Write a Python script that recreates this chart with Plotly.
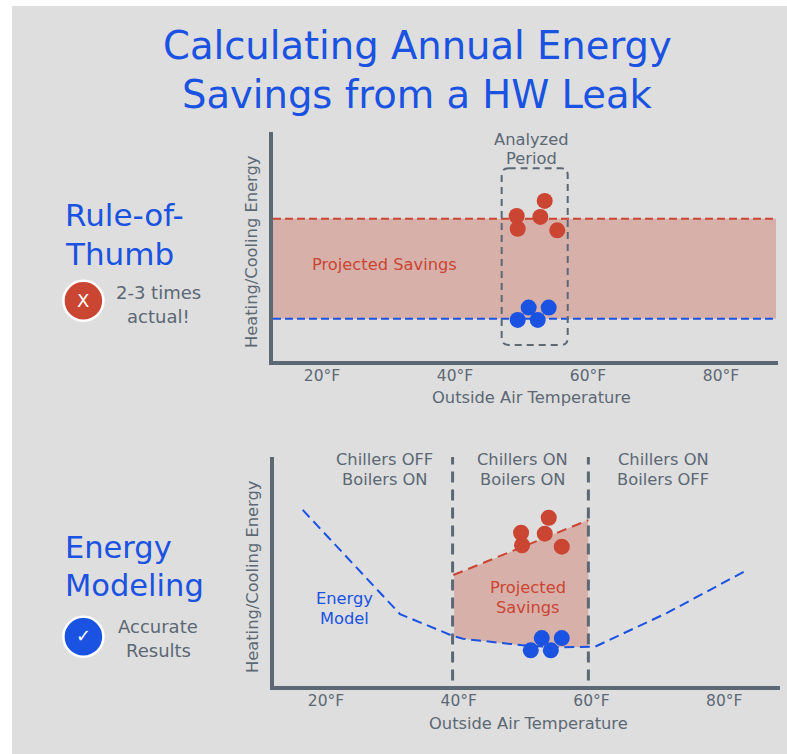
import plotly.graph_objects as go

W, H = 787, 754
FONT = "DejaVu Sans"
BLUE = "#1a52e2"
RED = "#cb4533"
GRAY = "#5c6874"
BG = "#dedede"
BAND = "rgba(203,69,51,0.30)"
LABEL = 16.3
SIDE = 18

# top panel (rule of thumb)
tick_vals = [20, 40, 60, 80]
tick_text = ["20°F", "40°F", "60°F", "80°F"]
top_red_x = [53.49, 49.28, 52.83, 49.43, 55.38]
top_red_y = [70.3, 63.8, 63.4, 58.3, 57.6]
top_blue_x = [51.08, 54.09, 49.43, 52.44]
top_blue_y = [24.3, 24.3, 19.0, 19.0]
top_line_x = [12.63, 88.27]
top_red_level = [62.6, 62.6]
top_blue_level = [19.5, 19.5]

# bottom panel (energy model)
bot_red_x = [53.56, 49.39, 52.96, 49.54, 55.52]
bot_red_y = [73.7, 67.2, 66.8, 61.8, 61.2]
bot_blue_x = [52.51, 55.52, 50.85, 53.87]
bot_blue_y = [21.6, 21.6, 16.3, 16.3]
bot_red_line_x = [39.19, 59.53]
bot_red_line_y = [48.9, 72.7]
model_x = [16.49, 31.15, 39.14, 40.65, 50.29, 55.27, 60.54, 71.39, 83.26]
model_y = [77.1, 32.0, 22.5, 21.3, 18.3, 17.6, 17.9, 32.5, 50.8]
fill_x = [39.3, 59.5, 59.5, 55.27, 50.29, 40.65, 39.3]
fill_y = [48.9, 72.7, 17.7, 17.6, 18.3, 21.3, 22.3]
divider_temps = [39.07, 59.53]
divider_span = [3.2, 100]

fig = go.Figure()


def px_x(x):
    return x / W


def px_y(y):
    return 1 - y / H


def dots(x, y, color, xa, ya):
    fig.add_trace(go.Scatter(x=x, y=y, mode="markers", xaxis=xa, yaxis=ya,
                             marker=dict(size=16, color=color, line=dict(width=0))))


def dash(x, y, color, xa, ya, width=2, pattern="8px,4px"):
    fig.add_trace(go.Scatter(x=x, y=y, mode="lines", xaxis=xa, yaxis=ya,
                             line=dict(color=color, width=width, dash=pattern)))


def band(x, y, xa, ya):
    fig.add_trace(go.Scatter(x=x, y=y, mode="lines", fill="toself", fillcolor=BAND,
                             xaxis=xa, yaxis=ya, line=dict(width=0)))


# top
band(top_line_x + top_line_x[::-1], top_red_level + top_blue_level, "x", "y")
dash(top_line_x, top_red_level, RED, "x", "y")
dash(top_line_x, top_blue_level, BLUE, "x", "y")
dots(top_red_x, top_red_y, RED, "x", "y")
dots(top_blue_x, top_blue_y, BLUE, "x", "y")

# bottom
band(fill_x, fill_y, "x2", "y2")
for t in divider_temps:
    dash([t, t], divider_span, GRAY, "x2", "y2", width=3, pattern="11px,7px")
dash(bot_red_line_x, bot_red_line_y, RED, "x2", "y2", pattern="10px,6px")
dash(model_x, model_y, BLUE, "x2", "y2", pattern="10px,5.6px")
dots(bot_red_x, bot_red_y, RED, "x2", "y2")
dots(bot_blue_x, bot_blue_y, BLUE, "x2", "y2")

axis = dict(showgrid=False, zeroline=False, showline=True, linecolor=GRAY, linewidth=4,
            ticks="", tickfont=dict(family=FONT, size=15.5, color=GRAY), fixedrange=True)

fig.update_layout(
    width=W, height=H, margin=dict(l=0, r=0, t=0, b=0),
    paper_bgcolor="white", plot_bgcolor="rgba(0,0,0,0)", showlegend=False,
    font=dict(family=FONT),
    xaxis=dict(axis, domain=[px_x(272.7), px_x(778)], range=[12.59, 88.57], anchor="y",
               tickvals=tick_vals, ticktext=tick_text, ticklabelstandoff=-3),
    yaxis=dict(axis, domain=[px_y(361.3), px_y(132)], range=[1.16, 100], anchor="x", showticklabels=False),
    xaxis2=dict(axis, domain=[px_x(273.7), px_x(780)], range=[12.12, 88.4], anchor="y2",
                tickvals=tick_vals, ticktext=tick_text, ticklabelstandoff=-3),
    yaxis2=dict(axis, domain=[px_y(686.3), px_y(457)], range=[0.74, 100], anchor="x2", showticklabels=False),
)

# background panel and icons
fig.add_shape(type="rect", xref="paper", yref="paper", layer="below", line_width=0, fillcolor=BG,
              x0=px_x(12), x1=1, y0=0, y1=px_y(6))
for cx, cy, col in [(83.4, 300.8, RED), (83.4, 636.7, BLUE)]:
    fig.add_shape(type="circle", xref="paper", yref="paper", layer="above", fillcolor=col,
                  line=dict(color="white", width=2.5),
                  x0=px_x(cx - 20), x1=px_x(cx + 20), y0=px_y(cy + 20), y1=px_y(cy - 20))

# analysed period box, rounded
bx0, bx1, by0, by1 = 47.02, 56.95, 8.2, 84.4
rx, ry = 1.05, 3.0
box = (f"M {bx0+rx},{by1} L {bx1-rx},{by1} Q {bx1},{by1} {bx1},{by1-ry} L {bx1},{by0+ry} "
       f"Q {bx1},{by0} {bx1-rx},{by0} L {bx0+rx},{by0} Q {bx0},{by0} {bx0},{by0+ry} "
       f"L {bx0},{by1-ry} Q {bx0},{by1} {bx0+rx},{by1} Z")
fig.add_shape(type="path", path=box, xref="x", yref="y", layer="above",
              line=dict(color=GRAY, width=2, dash="7px,5px"))


def text(s, x, y, size, color, anchor="center", angle=0):
    fig.add_annotation(text=s, x=px_x(x), y=px_y(y), xref="paper", yref="paper", showarrow=False,
                       xanchor=anchor, yanchor="middle", textangle=angle, align=anchor,
                       font=dict(family=FONT, size=size, color=color))


def pair(a, b, x, y_mid, color):
    # two-line label, lines just clear of each other
    text(a, x, y_mid - 9.8, LABEL, color)
    text(b, x, y_mid + 9.8, LABEL, color)


text("Calculating Annual Energy", 417.5, 45, 38.5, BLUE)
text("Savings from a HW Leak", 417.5, 94, 38.5, BLUE)
text("Rule-of-", 63, 215, 31, BLUE, "left")
text("Thumb", 63, 254, 31, BLUE, "left")
text("Energy", 63, 547, 30.5, BLUE, "left")
text("Modeling", 63, 585, 30.5, BLUE, "left")
text("2-3 times", 158, 292, SIDE, GRAY)
text("actual!", 158, 316, SIDE, GRAY)
text("Accurate", 158, 626, SIDE, GRAY)
text("Results", 158, 650, SIDE, GRAY)
text("X", 83.4, 301, 18, "white")
text("✓", 83.4, 635, 18, "white")
text("Heating/Cooling Energy", 251, 252, LABEL, GRAY, angle=-90)
text("Heating/Cooling Energy", 252, 577, LABEL, GRAY, angle=-90)
text("Outside Air Temperature", 531, 397, LABEL, GRAY)
text("Outside Air Temperature", 528, 723, LABEL, GRAY)
pair("Analyzed", "Period", 531.5, 149, GRAY)
text("Projected Savings", 384, 264, LABEL, RED)
pair("Chillers OFF", "Boilers ON", 384.5, 469.5, GRAY)
pair("Chillers ON", "Boilers ON", 522.5, 469.5, GRAY)
pair("Chillers ON", "Boilers OFF", 663, 469.5, GRAY)
pair("Energy", "Model", 344, 608.5, BLUE)
pair("Projected", "Savings", 528, 597.5, RED)

fig.write_html("out.html", config={"displayModeBar": False},
               post_script="document.body.style.margin='0';document.body.style.overflow='hidden';")
